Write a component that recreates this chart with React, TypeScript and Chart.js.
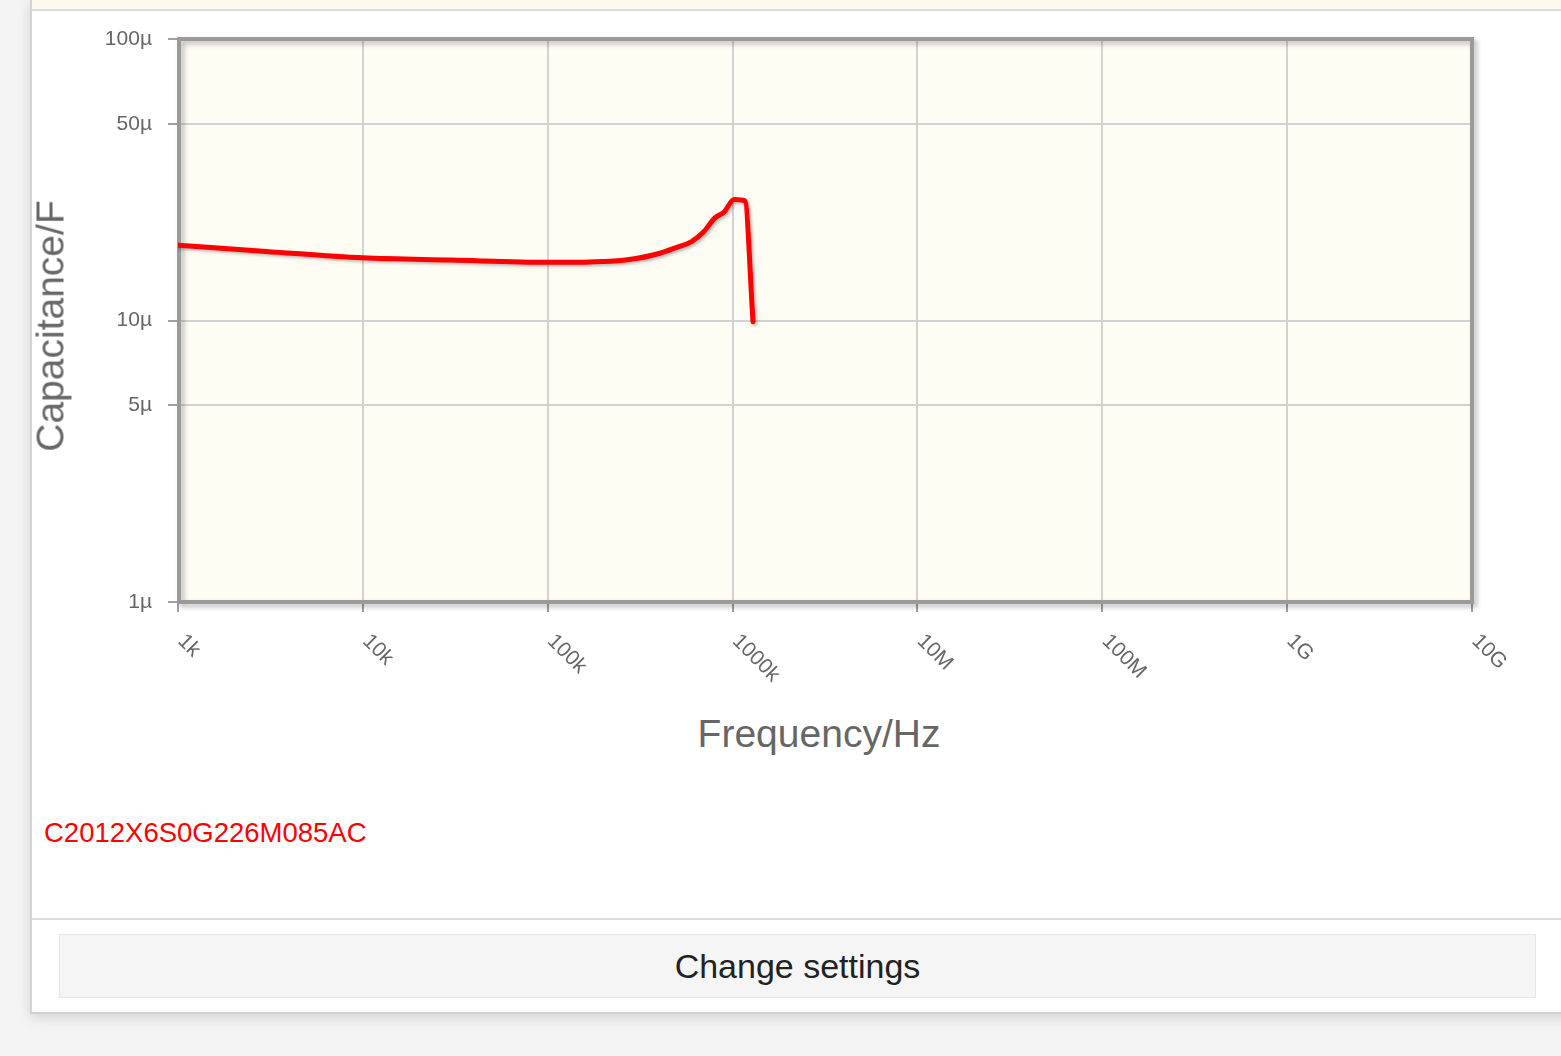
import React, { useEffect, useRef } from 'react';
import { Chart, registerables } from 'chart.js';

Chart.register(...registerables);

const frequencyHz = [1e3, 3e3, 1e4, 3e4, 1e5, 1.5e5, 2e5, 2.5e5, 3e5, 4e5, 5e5, 6e5, 7e5, 8e5, 9e5, 1.02e6, 1.165e6, 1.29e6];
const capacitanceUF = [18.5, 17.6, 16.7, 16.4, 16.1, 16.1, 16.2, 16.35, 16.6, 17.3, 18.2, 19.05, 20.7, 23.1, 24.3, 26.9, 26.6, 9.9];
const xTickValues = [1e3, 1e4, 1e5, 1e6, 1e7, 1e8, 1e9, 1e10];
const xTickLabels = ['1k', '10k', '100k', '1000k', '10M', '100M', '1G', '10G'];
const yTickValues = [1e-6, 5e-6, 1e-5, 5e-5, 1e-4];
const yTickLabels = ['1µ', '5µ', '10µ', '50µ', '100µ'];
const seriesName = 'C2012X6S0G226M085AC';
const xTitle = 'Frequency/Hz';
const yTitle = 'Capacitance/F';
const buttonText = 'Change settings';

const FONT = '"Liberation Sans", Arial, sans-serif';

export default function App() {
  const ref = useRef<HTMLCanvasElement | null>(null);

  useEffect(() => {
    const canvas = ref.current;
    if (!canvas) return;
    const points = frequencyHz.map((f, i) => ({ x: f, y: capacitanceUF[i] * 1e-6 }));

    const framePlugin = {
      id: 'frameAndLabels',
      beforeDraw(chart: any) {
        const { ctx, chartArea: a } = chart;
        ctx.save();
        ctx.fillStyle = '#fffcf4';
        ctx.fillRect(a.left, a.top, a.right - a.left, a.bottom - a.top);
        ctx.restore();
      },
      beforeDatasetsDraw(chart: any) {
        const { ctx, chartArea: a } = chart;
        ctx.save();
        ctx.shadowColor = 'rgba(0,0,0,0.28)';
        ctx.shadowBlur = 5;
        ctx.shadowOffsetX = 3;
        ctx.shadowOffsetY = 3;
        ctx.strokeStyle = '#9a9a9a';
        ctx.lineWidth = 4;
        ctx.strokeRect(a.left + 1, a.top, a.right - a.left - 1, a.bottom - a.top);
        ctx.restore();
        ctx.save();
        ctx.shadowColor = 'rgba(0,0,0,0.25)';
        ctx.shadowBlur = 3;
        ctx.shadowOffsetX = 2;
        ctx.shadowOffsetY = 2;
      },
      afterDatasetsDraw(chart: any) {
        chart.ctx.restore();
      },
      afterDraw(chart: any) {
        const { ctx } = chart;
        const xs = chart.scales.x;
        ctx.save();
        ctx.font = '21px ' + FONT;
        ctx.fillStyle = '#666666';
        ctx.textAlign = 'left';
        ctx.textBaseline = 'middle';
        xTickValues.forEach((v, i) => {
          const px = xs.getPixelForValue(v);
          ctx.save();
          ctx.translate(px + 3, chart.chartArea.bottom + 36);
          ctx.rotate(Math.PI / 4);
          ctx.fillText(xTickLabels[i], 0, 0);
          ctx.restore();
        });
        ctx.restore();
      },
    };

    const chart = new Chart(canvas, {
      type: 'line',
      data: {
        datasets: [
          {
            label: seriesName,
            data: points,
            borderColor: '#ff0000',
            borderWidth: 5,
            pointRadius: 0,
            cubicInterpolationMode: 'monotone',
            borderJoinStyle: 'round',
            borderCapStyle: 'round',
            fill: false,
          },
        ],
      },
      options: {
        responsive: false,
        animation: false,
        layout: { padding: { top: 27, right: 89, left: 0, bottom: 0 } },
        plugins: { legend: { display: false }, tooltip: { enabled: false } },
        scales: {
          x: {
            type: 'logarithmic',
            min: 1e3,
            max: 1e10,
            afterBuildTicks: (s: any) => {
              s.ticks = xTickValues.map((v) => ({ value: v }));
            },
            afterFit: (s: any) => {
              s.height = 110;
              s.paddingLeft = 0;
              s.paddingRight = 0;
            },
            ticks: { display: false },
            border: { display: false },
            grid: {
              color: '#d2d2d2',
              lineWidth: 2,
              drawTicks: true,
              tickLength: 10,
              tickColor: '#a0a0a0',
              tickWidth: 2,
            },
          },
          y: {
            type: 'logarithmic',
            min: 1e-6,
            max: 1e-4,
            afterBuildTicks: (s: any) => {
              s.ticks = yTickValues.map((v) => ({ value: v }));
            },
            afterFit: (s: any) => {
              s.width = 148;
              s.paddingTop = 0;
              s.paddingBottom = 0;
            },
            ticks: {
              autoSkip: false,
              padding: 16,
              color: '#666666',
              font: { family: FONT, size: 21 },
              callback: (v: any) => {
                const idx = yTickValues.findIndex((t) => Math.abs(t - Number(v)) / t < 1e-6);
                return idx >= 0 ? yTickLabels[idx] : '';
              },
            },
            border: { display: false },
            grid: {
              color: '#d2d2d2',
              lineWidth: 2,
              drawTicks: true,
              tickLength: 10,
              tickColor: '#a0a0a0',
              tickWidth: 2,
            },
          },
        },
      },
      plugins: [framePlugin],
    } as any);

    return () => chart.destroy();
  }, []);

  return (
    <div
      style={{
        position: 'absolute',
        left: 0,
        top: 0,
        width: 1561,
        height: 1056,
        overflow: 'hidden',
        background: '#f4f4f4',
        fontFamily: FONT,
      }}
    >
      <div
        style={{
          position: 'absolute',
          left: 30,
          top: -2,
          width: 1560,
          height: 1014,
          background: '#ffffff',
          borderLeft: '2px solid #d4d4d4',
          borderBottom: '2px solid #d0d0d0',
          boxShadow: '0 4px 12px rgba(0,0,0,0.13)',
        }}
      />
      <div
        style={{
          position: 'absolute',
          left: 32,
          top: 0,
          width: 1529,
          height: 9,
          background: '#fdf9ec',
          borderBottom: '2px solid #dedede',
        }}
      />
      <canvas
        ref={ref}
        width={1531}
        height={700}
        style={{ position: 'absolute', left: 30, top: 12, width: 1531, height: 700 }}
      />
      <div
        style={{
          position: 'absolute',
          left: 50,
          top: 326,
          transform: 'translate(-50%, -50%) rotate(-90deg)',
          fontSize: 39,
          lineHeight: 1,
          color: '#666666',
          whiteSpace: 'nowrap',
        }}
      >
        {yTitle}
      </div>
      <div
        style={{
          position: 'absolute',
          left: 819,
          top: 714,
          transform: 'translateX(-50%)',
          fontSize: 39,
          lineHeight: 1,
          color: '#666666',
          whiteSpace: 'nowrap',
        }}
      >
        {xTitle}
      </div>
      <div
        style={{
          position: 'absolute',
          left: 44,
          top: 819,
          fontSize: 27.5,
          lineHeight: 1,
          color: '#ff0000',
          whiteSpace: 'nowrap',
        }}
      >
        {seriesName}
      </div>
      <div
        style={{
          position: 'absolute',
          left: 32,
          top: 918,
          width: 1529,
          height: 2,
          background: '#dcdcdc',
        }}
      />
      <div
        style={{
          position: 'absolute',
          left: 59,
          top: 934,
          width: 1475,
          height: 62,
          background: '#f5f5f5',
          border: '1px solid #e6e6e6',
          display: 'flex',
          alignItems: 'center',
          justifyContent: 'center',
          fontSize: 34,
          color: '#222222',
          whiteSpace: 'nowrap',
        }}
      >
        {buttonText}
      </div>
    </div>
  );
}
